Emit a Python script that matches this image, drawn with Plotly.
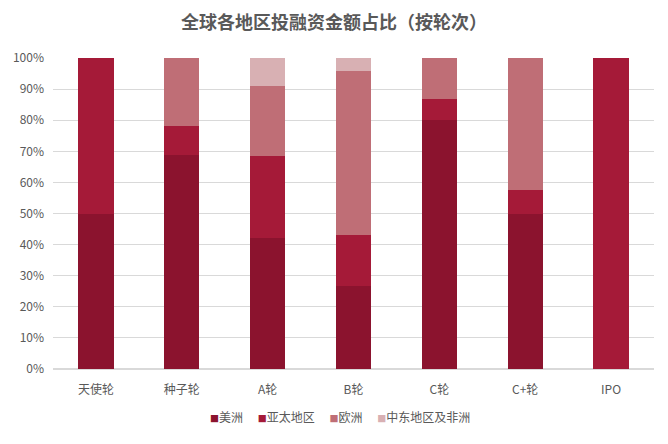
import plotly.graph_objects as go

categories = ["天使轮", "种子轮", "A轮", "B轮", "C轮", "C+轮", "IPO"]
series_names = ["美洲", "亚太地区", "欧洲", "中东地区及非洲"]
americas = [50.0, 68.75, 42.1, 26.8, 80.0, 50.0, 0.0]
asia_pacific = [50.0, 9.35, 26.3, 16.2, 6.7, 7.5, 100.0]
europe = [0.0, 21.9, 22.7, 52.9, 13.3, 42.5, 0.0]
mideast_africa = [0.0, 0.0, 8.9, 4.1, 0.0, 0.0, 0.0]
colors = ["#8B132E", "#A51A38", "#BF6E76", "#D8B0B3"]

fig = go.Figure()
for name, vals, col in zip(series_names, [americas, asia_pacific, europe, mideast_africa], colors):
    fig.add_trace(go.Bar(x=categories, y=[v / 100 for v in vals], name=name,
                         marker=dict(color=col, line=dict(width=0)), showlegend=False))

# legend drawn as one text line (compact, Excel-like)
legend_text = "\u2003\u00a0".join(
    f'<span style="color:{c};font-size:9px">■</span>{n}' for n, c in zip(series_names, colors)
)
fig.add_annotation(text=legend_text, xref="paper", yref="paper", x=0.478, y=-0.154,
                   xanchor="center", yanchor="middle", showarrow=False,
                   font=dict(size=12, color="#595959"))

fig.update_layout(
    barmode="stack",
    bargap=0.59,
    width=668, height=444,
    margin=dict(l=53, r=14, t=58, b=75),
    paper_bgcolor="white", plot_bgcolor="white",
    font=dict(family="Noto Sans CJK SC, sans-serif", color="#595959", size=12),
    title=dict(text="<b>全球各地区投融资金额占比（按轮次）</b>", x=0.5, xanchor="center",
               y=0.948, yanchor="middle", font=dict(size=18, color="#595959")),
    xaxis=dict(showgrid=False, showline=False, ticks="", tickfont=dict(size=12),
               ticklabelstandoff=12),
    yaxis=dict(range=[0, 1], tickformat=".0%", dtick=0.1, showgrid=True,
               gridcolor="#D9D9D9", gridwidth=1, zeroline=True, zerolinecolor="#D9D9D9",
               tickfont=dict(size=12), ticklabelstandoff=8),
)
fig.write_html("out.html")
